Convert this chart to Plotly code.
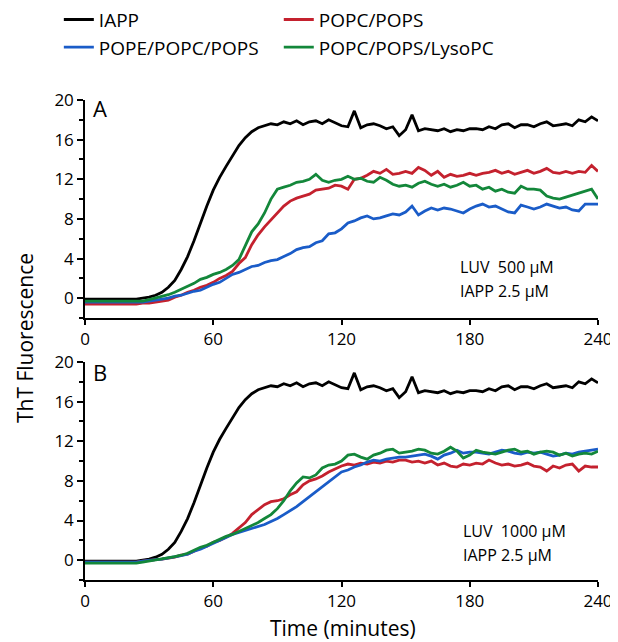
import plotly.graph_objects as go
from plotly.subplots import make_subplots

time_min = list(range(0, 241, 3))

iapp = [-0.1,-0.1,-0.1,-0.1,-0.1,-0.1,-0.1,-0.1,-0.1,0.0,
        0.1,0.3,0.6,1.1,1.8,2.9,4.2,5.8,7.6,9.3,
        10.9,12.2,13.3,14.4,15.4,16.2,16.8,17.2,17.4,17.6,
        17.5,17.8,17.6,17.9,17.5,17.8,17.9,17.6,18.0,17.7,
        17.4,17.3,18.9,17.2,17.5,17.6,17.4,17.1,17.3,16.4,
        17.0,18.5,16.9,17.1,17.0,16.9,17.1,16.8,17.0,16.9,
        17.1,17.1,17.0,17.3,17.1,17.5,17.6,17.2,17.5,17.5,
        17.3,17.6,17.8,17.4,17.5,17.6,17.4,18.0,17.8,18.3,
        17.9]

a_popc_pops = [-0.6,-0.6,-0.6,-0.6,-0.6,-0.6,-0.6,-0.6,-0.6,-0.5,
               -0.5,-0.4,-0.3,-0.2,0.1,0.3,0.6,0.8,1.1,1.3,
               1.6,2.0,2.3,2.7,3.5,4.1,5.4,6.4,7.2,7.9,
               8.6,9.3,9.8,10.1,10.3,10.5,10.9,11.0,11.1,11.4,
               11.3,11.0,12.0,12.1,12.4,12.8,12.6,13.0,12.5,12.6,
               12.8,12.6,13.2,12.9,12.4,12.8,12.2,12.5,12.3,12.4,
               12.6,12.4,12.6,12.7,12.9,12.6,12.8,12.5,12.7,12.9,
               12.6,12.8,13.1,12.7,12.6,12.8,12.6,12.8,12.7,13.4,
               12.8]

a_pope_popc_pops = [-0.4,-0.4,-0.4,-0.4,-0.4,-0.4,-0.4,-0.4,-0.4,-0.4,
                    -0.3,-0.2,-0.1,0.0,0.2,0.3,0.5,0.7,0.8,1.1,
                    1.4,1.6,2.0,2.4,2.6,2.9,3.2,3.3,3.6,3.8,
                    3.9,4.2,4.5,4.9,5.1,5.2,5.6,5.8,6.5,6.6,
                    7.0,7.6,7.8,8.1,8.3,8.0,8.1,8.3,8.5,8.4,
                    8.7,9.3,8.4,8.8,9.1,8.9,9.1,9.0,8.8,8.6,
                    9.0,9.3,9.5,9.2,9.3,9.0,8.7,8.6,9.4,9.2,
                    9.0,9.2,9.5,9.3,9.1,9.2,8.9,8.8,9.5,9.5,
                    9.5]

a_lysopc = [-0.3,-0.3,-0.3,-0.3,-0.3,-0.3,-0.3,-0.3,-0.3,-0.3,
            -0.15,0.0,0.2,0.35,0.6,0.9,1.2,1.5,1.9,2.1,
            2.4,2.6,2.9,3.3,3.9,5.3,6.7,7.5,8.6,10.0,
            11.0,11.2,11.4,11.7,11.8,12.0,12.5,11.9,11.7,11.9,
            12.0,12.3,12.0,12.1,11.8,11.7,12.2,11.9,11.5,11.3,
            11.4,11.2,11.6,11.8,11.5,11.3,11.5,11.2,11.4,11.7,
            11.3,11.4,11.0,11.2,10.8,11.0,10.7,10.6,11.3,11.0,
            11.0,10.9,10.3,10.1,10.0,10.2,10.4,10.6,10.8,11.0,
            10.0]

b_popc_pops = [-0.2,-0.2,-0.2,-0.2,-0.2,-0.2,-0.2,-0.2,-0.2,-0.1,
               0.0,0.05,0.1,0.2,0.3,0.5,0.6,0.9,1.2,1.4,
               1.8,2.0,2.3,2.7,3.3,3.8,4.6,5.1,5.6,5.9,
               6.0,6.2,6.6,6.9,7.6,8.0,8.2,8.5,8.9,9.2,
               9.5,9.7,9.6,9.8,9.7,9.9,9.8,10.0,9.9,10.1,
               10.1,9.9,10.0,9.8,10.0,9.6,9.8,9.5,9.4,9.7,
               9.6,9.8,9.7,10.1,9.8,9.6,9.7,9.5,9.6,9.8,
               9.5,9.4,9.0,9.5,9.3,9.6,9.7,9.0,9.5,9.4,
               9.4]

b_pope_popc_pops = [-0.2,-0.2,-0.2,-0.2,-0.2,-0.2,-0.2,-0.2,-0.2,-0.1,
                    0.0,0.05,0.1,0.2,0.3,0.45,0.6,0.9,1.1,1.4,
                    1.7,2.0,2.3,2.6,2.8,3.0,3.2,3.4,3.6,3.9,
                    4.2,4.6,5.0,5.4,5.9,6.4,6.9,7.4,7.9,8.4,
                    8.9,9.1,9.4,9.6,9.9,10.1,10.0,10.2,10.3,10.4,
                    10.4,10.5,10.6,10.7,10.5,10.2,10.6,10.8,11.1,10.8,
                    10.9,10.9,10.8,10.7,10.9,11.1,11.0,10.8,10.7,10.9,
                    10.8,10.9,10.7,10.5,10.6,10.8,10.7,10.9,11.0,11.1,
                    11.2]

b_lysopc = [-0.3,-0.3,-0.3,-0.3,-0.3,-0.3,-0.3,-0.3,-0.3,-0.2,
            -0.1,0.05,0.1,0.2,0.35,0.5,0.7,1.0,1.3,1.5,
            1.8,2.1,2.4,2.6,2.9,3.2,3.5,3.8,4.2,4.6,
            5.2,6.0,7.0,7.8,8.4,8.3,8.6,9.3,9.6,9.7,
            10.0,10.6,10.7,10.4,10.2,10.6,10.8,11.1,11.2,10.8,
            10.9,11.0,11.2,11.1,10.8,10.7,11.0,11.4,11.0,10.3,
            10.6,11.1,10.9,10.8,10.7,10.9,11.1,11.2,10.9,11.0,
            10.7,10.9,11.0,10.9,10.6,10.8,10.5,10.7,10.8,10.7,
            11.0]

x_ticks = [0, 60, 120, 180, 240]
y_ticks = [0, 4, 8, 12, 16, 20]

names = ["IAPP", "POPC/POPS", "POPE/POPC/POPS", "POPC/POPS/LysoPC"]
colors = ["#000000", "#c4212e", "#1a5cc8", "#13873a"]
panel_a = [iapp, a_popc_pops, a_pope_popc_pops, a_lysopc]
panel_b = [iapp, b_popc_pops, b_pope_popc_pops, b_lysopc]

FONT = "Open Sans"

fig = make_subplots(rows=2, cols=1)
for row, series, show in [(1, panel_a, True), (2, panel_b, False)]:
    for name, col, ys in zip(names, colors, series):
        fig.add_trace(go.Scatter(x=time_min, y=ys, mode="lines", name=name,
                                 line=dict(color=col, width=2.8),
                                 showlegend=show), row=row, col=1)

axis_common = dict(range=[0, 240], tickvals=x_ticks, showline=True, linecolor="black",
                   linewidth=1.5, ticks="outside", ticklen=5, tickwidth=1.5,
                   tickcolor="black", showgrid=False, zeroline=False,
                   tickfont=dict(family=FONT, size=17, color="black"))
yaxis_common = dict(range=[-2, 20], tickvals=y_ticks, showline=True, linecolor="black",
                    linewidth=1.5, ticks="outside", ticklen=6, tickwidth=1.5,
                    tickcolor="black", showgrid=False, zeroline=False,
                    minor=dict(dtick=2, tick0=0, ticks="outside", ticklen=4,
                               tickwidth=1.5, tickcolor="black"),
                    tickfont=dict(family=FONT, size=17, color="black"))

fig.update_layout(
    xaxis=dict(axis_common, anchor="y"),
    xaxis2=dict(axis_common, anchor="y2"),
    yaxis=dict(yaxis_common, domain=[0.5458, 1.0], anchor="x"),
    yaxis2=dict(yaxis_common, domain=[0.0, 0.4542], anchor="x2"),
)

annotations = [
    dict(text="A", x=3, y=19.2, xref="x", yref="y", xanchor="left", yanchor="middle",
         showarrow=False, font=dict(family=FONT, size=22, color="black")),
    dict(text="B", x=3, y=19.0, xref="x2", yref="y2", xanchor="left", yanchor="middle",
         showarrow=False, font=dict(family=FONT, size=22, color="black")),
    dict(text="LUV\u00a0\u00a0500 \u03bcM", x=174.5, y=3.1, xref="x", yref="y",
         xanchor="left", yanchor="middle", showarrow=False,
         font=dict(family=FONT, size=16, color="black")),
    dict(text="IAPP 2.5 \u03bcM", x=174.5, y=0.7, xref="x", yref="y",
         xanchor="left", yanchor="middle", showarrow=False,
         font=dict(family=FONT, size=16, color="black")),
    dict(text="LUV\u00a0\u00a01000 \u03bcM", x=176, y=2.9, xref="x2", yref="y2",
         xanchor="left", yanchor="middle", showarrow=False,
         font=dict(family=FONT, size=16, color="black")),
    dict(text="IAPP 2.5 \u03bcM", x=176, y=0.5, xref="x2", yref="y2",
         xanchor="left", yanchor="middle", showarrow=False,
         font=dict(family=FONT, size=16, color="black")),
    dict(text="ThT Fluorescence", x=-0.117, y=0.504, xref="paper", yref="paper",
         xanchor="center", yanchor="middle", textangle=-90, showarrow=False,
         font=dict(family=FONT, size=21, color="black")),
    dict(text="Time (minutes)", x=0.503, y=-0.1, xref="paper", yref="paper",
         xanchor="center", yanchor="middle", showarrow=False,
         font=dict(family=FONT, size=21, color="black")),
]

# page body has an 8px default margin, so the figure is 610x634 and offset by 8px
fig.update_layout(
    width=610, height=634,
    margin=dict(l=77, r=20, t=92, b=62, autoexpand=False),
    paper_bgcolor="white", plot_bgcolor="white",
    annotations=annotations,
    showlegend=True,
    legend=dict(orientation="h", x=-0.051, y=1.207, xanchor="left", yanchor="top",
                itemwidth=30,
                font=dict(family=FONT, size=19, color="black"),
                bgcolor="rgba(0,0,0,0)", tracegroupgap=0),
)

fig.write_html("out.html")
